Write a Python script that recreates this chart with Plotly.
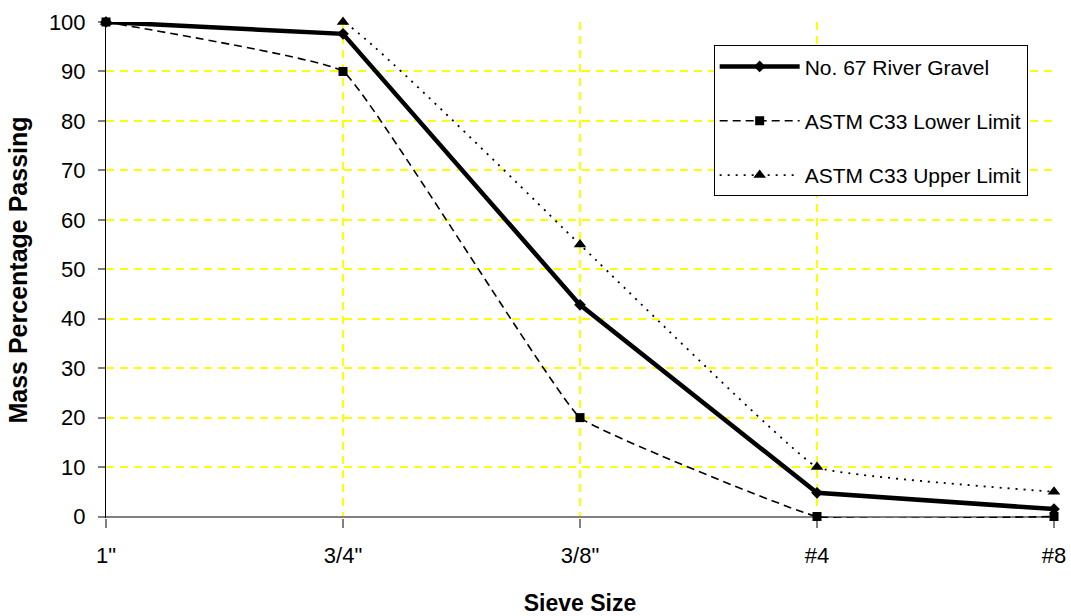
import plotly.graph_objects as go

# Sieve sizes (x categories) and percentage passing for each series
sieves = ['1"', '3/4"', '3/8"', '#4', '#8']
river_gravel = [100, 97.6, 42.8, 4.8, 1.5]
astm_lower = [100, 90, 20, 0, 0]
astm_upper = [100, 100, 55, 10, 5]

FONT = "Liberation Sans, Arial, sans-serif"

fig = go.Figure()

fig.add_trace(go.Scatter(
    x=sieves, y=river_gravel, name="No. 67 River Gravel", legendgroup="a",
    mode="lines+markers", cliponaxis=False,
    line=dict(color="black", width=4.5),
    marker=dict(symbol="diamond", size=9, color="black"),
))
fig.add_trace(go.Scatter(
    x=sieves, y=astm_lower, name="ASTM C33 Lower Limit", legendgroup="b",
    mode="lines+markers", cliponaxis=False,
    line=dict(color="black", width=1.6, dash="8px,5px", shape="spline", smoothing=0.25),
    marker=dict(symbol="square", size=9, color="black"),
))
fig.add_trace(go.Scatter(
    x=sieves, y=astm_upper, name="ASTM C33 Upper Limit", legendgroup="c",
    mode="lines+markers", cliponaxis=False,
    line=dict(color="black", width=1.8, dash="2px,6px", shape="spline", smoothing=0.25),
    marker=dict(symbol="triangle-up", size=11, color="black"),
))

grid = dict(showgrid=True, gridcolor="#FFFF00", gridwidth=1.5, griddash="8px,6px")

fig.update_layout(
    width=1071, height=616,
    margin=dict(l=106, r=17, t=22, b=98),
    paper_bgcolor="white", plot_bgcolor="white",
    font=dict(family=FONT, color="black", size=22),
    showlegend=True,
    legend=dict(
        x=0.641, y=0.953, xanchor="left", yanchor="top",
        bgcolor="white", bordercolor="black", borderwidth=1,
        font=dict(family=FONT, size=21, color="black"),
        tracegroupgap=24, itemwidth=80,
    ),
    xaxis=dict(
        type="category", range=[0, 4], tickmode="linear", tick0=0, dtick=1,
        automargin=False, layer="below traces",
        showline=False,
        ticks="outside", ticklen=9, tickcolor="#808080", tickwidth=2,
        tickfont=dict(family=FONT, size=22),
        ticklabelstandoff=9,
        title=dict(text="<b>Sieve Size</b>", font=dict(family=FONT, size=23), standoff=30),
        **grid,
    ),
    yaxis=dict(
        range=[-0.3, 100], tickmode="linear", tick0=0, dtick=10,
        automargin=False, layer="below traces",
        showline=True, linecolor="black", linewidth=1,
        ticks="outside", ticklen=7, tickcolor="#808080", tickwidth=2,
        zeroline=True, zerolinecolor="#808080", zerolinewidth=2,
        tickfont=dict(family=FONT, size=22),
        ticklabelstandoff=8,
        title=dict(text="<b>Mass Percentage Passing</b>", font=dict(family=FONT, size=25), standoff=14),
        **grid,
    ),
)

fig.write_html("out.html")
